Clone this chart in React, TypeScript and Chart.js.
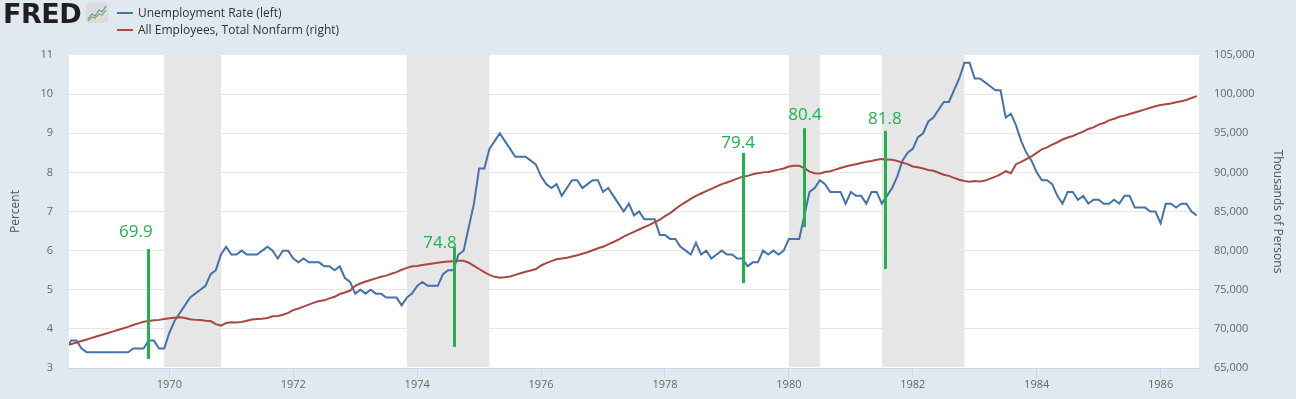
import React, { useEffect, useRef } from 'react';
import { Chart, registerables } from 'chart.js';

Chart.register(...registerables);

// Monthly series starting January 1968
const START_YEAR = 1968;

// Unemployment Rate (percent), Jan 1968 - Aug 1986
const UNRATE = [
  3.7, 3.8, 3.7, 3.5, 3.5, 3.7, 3.7, 3.5, 3.4, 3.4, 3.4, 3.4,
  3.4, 3.4, 3.4, 3.4, 3.4, 3.5, 3.5, 3.5, 3.7, 3.7, 3.5, 3.5,
  3.9, 4.2, 4.4, 4.6, 4.8, 4.9, 5.0, 5.1, 5.4, 5.5, 5.9, 6.1,
  5.9, 5.9, 6.0, 5.9, 5.9, 5.9, 6.0, 6.1, 6.0, 5.8, 6.0, 6.0,
  5.8, 5.7, 5.8, 5.7, 5.7, 5.7, 5.6, 5.6, 5.5, 5.6, 5.3, 5.2,
  4.9, 5.0, 4.9, 5.0, 4.9, 4.9, 4.8, 4.8, 4.8, 4.6, 4.8, 4.9,
  5.1, 5.2, 5.1, 5.1, 5.1, 5.4, 5.5, 5.5, 5.9, 6.0, 6.6, 7.2,
  8.1, 8.1, 8.6, 8.8, 9.0, 8.8, 8.6, 8.4, 8.4, 8.4, 8.3, 8.2,
  7.9, 7.7, 7.6, 7.7, 7.4, 7.6, 7.8, 7.8, 7.6, 7.7, 7.8, 7.8,
  7.5, 7.6, 7.4, 7.2, 7.0, 7.2, 6.9, 7.0, 6.8, 6.8, 6.8, 6.4,
  6.4, 6.3, 6.3, 6.1, 6.0, 5.9, 6.2, 5.9, 6.0, 5.8, 5.9, 6.0,
  5.9, 5.9, 5.8, 5.8, 5.6, 5.7, 5.7, 6.0, 5.9, 6.0, 5.9, 6.0,
  6.3, 6.3, 6.3, 6.9, 7.5, 7.6, 7.8, 7.7, 7.5, 7.5, 7.5, 7.2,
  7.5, 7.4, 7.4, 7.2, 7.5, 7.5, 7.2, 7.4, 7.6, 7.9, 8.3, 8.5,
  8.6, 8.9, 9.0, 9.3, 9.4, 9.6, 9.8, 9.8, 10.1, 10.4, 10.8, 10.8,
  10.4, 10.4, 10.3, 10.2, 10.1, 10.1, 9.4, 9.5, 9.2, 8.8, 8.5, 8.3,
  8.0, 7.8, 7.8, 7.7, 7.4, 7.2, 7.5, 7.5, 7.3, 7.4, 7.2, 7.3,
  7.3, 7.2, 7.2, 7.3, 7.2, 7.4, 7.4, 7.1, 7.1, 7.1, 7.0, 7.0,
  6.7, 7.2, 7.2, 7.1, 7.2, 7.2, 7.0, 6.9,
];

// All Employees, Total Nonfarm (thousands of persons), Jan 1968 - Aug 1986
const PAYEMS = [
  66900, 67200, 67350, 67600, 67850, 68050, 68250, 68450, 68650, 68850, 69050, 69250,
  69450, 69650, 69850, 70050, 70250, 70500, 70700, 70900, 71000, 71100, 71150, 71250,
  71350, 71430, 71480, 71400, 71220, 71150, 71130, 71050, 71000, 70600, 70420, 70750,
  70850, 70820, 70880, 71050, 71200, 71250, 71300, 71400, 71600, 71650, 71800, 72050,
  72400, 72600, 72850, 73100, 73350, 73550, 73650, 73900, 74100, 74450, 74650, 74900,
  75500, 75800, 76050, 76250, 76450, 76650, 76800, 77050, 77250, 77550, 77800, 78000,
  78050, 78150, 78250, 78350, 78450, 78550, 78600, 78650, 78700, 78700, 78450, 78050,
  77650, 77250, 76900, 76650, 76550, 76600, 76700, 76900, 77100, 77300, 77450, 77650,
  78100, 78400, 78650, 78900, 79000, 79100, 79250, 79400, 79600, 79800, 80050, 80300,
  80500, 80800, 81100, 81400, 81800, 82100, 82400, 82700, 83000, 83300, 83650, 83950,
  84400, 84800, 85300, 85800, 86200, 86600, 87000, 87300, 87600, 87900, 88200, 88500,
  88700, 88950, 89200, 89450, 89550, 89750, 89900, 90000, 90050, 90200, 90350, 90500,
  90750, 90850, 90850, 90550, 90100, 89900, 89850, 90050, 90150, 90350, 90550, 90750,
  90900, 91050, 91200, 91350, 91450, 91600, 91700, 91650, 91600, 91450, 91250, 91050,
  90750, 90650, 90500, 90300, 90200, 89950, 89700, 89550, 89300, 89050, 88900, 88800,
  88900, 88850, 88950, 89200, 89450, 89750, 90150, 89900, 91050, 91350, 91700, 92050,
  92500, 92950, 93200, 93550, 93850, 94200, 94450, 94650, 94950, 95200, 95550, 95750,
  96100, 96300, 96650, 96850, 97100, 97250, 97450, 97650, 97850, 98050, 98250, 98450,
  98600, 98700, 98800, 98950, 99100, 99250, 99500, 99750,
];

const X_MIN = 1968.38;
const X_MAX = 1986.62;
const YEAR_TICKS = [1970, 1972, 1974, 1976, 1978, 1980, 1982, 1984, 1986];

const PCT_MIN = 3;
const PCT_MAX = 11;
const PCT_STEP = 1;
const EMP_MIN = 65000;
const EMP_MAX = 105000;
const EMP_STEP = 5000;

// Recession periods (decimal years)
const RECESSION_START = [1969.917, 1973.833, 1980.0, 1981.5];
const RECESSION_END = [1970.833, 1975.167, 1980.5, 1982.833];

// Green annotations (in data units: decimal year / percent)
const NOTE_LABELS = ['69.9', '74.8', '79.4', '80.4', '81.8'];
const NOTE_X = [1969.661, 1974.6, 1979.264, 1980.249, 1981.556];
const NOTE_TOP = [6.04, 6.09, 8.5, 9.13, 9.06];
const NOTE_BOTTOM = [3.23, 3.54, 5.17, 6.6, 5.53];
const NOTE_LABEL_X = [1969.458, 1974.369, 1979.18, 1980.26, 1981.55];
const NOTE_LABEL_Y = [6.48, 6.19, 8.74, 9.47, 9.37];

const BLUE = '#4572a7';
const RED = '#aa4643';
const GREEN = '#22b14c';
const BG = '#e1e9f0';
const FONT = '"Open Sans", "DejaVu Sans", sans-serif';

function monthX(i: number) {
  return START_YEAR + i / 12;
}

const plotBg = {
  id: 'plotBg',
  beforeDraw(chart: any) {
    const { ctx, chartArea } = chart;
    ctx.save();
    ctx.fillStyle = '#ffffff';
    ctx.fillRect(chartArea.left, chartArea.top, chartArea.right - chartArea.left, chartArea.bottom - chartArea.top);
    ctx.restore();
  },
};

const recessions = {
  id: 'recessions',
  beforeDatasetsDraw(chart: any) {
    const { ctx, chartArea, scales } = chart;
    const xs = scales.x;
    ctx.save();
    ctx.fillStyle = '#e6e6e6';
    for (let i = 0; i < RECESSION_START.length; i++) {
      const a = xs.getPixelForValue(RECESSION_START[i]);
      const b = xs.getPixelForValue(RECESSION_END[i]);
      ctx.fillRect(a, chartArea.top, b - a, chartArea.bottom - chartArea.top - 1);
    }
    ctx.restore();
  },
};

const notes = {
  id: 'notes',
  afterDatasetsDraw(chart: any) {
    const { ctx, scales } = chart;
    const xs = scales.x;
    const ys = scales.y;
    ctx.save();
    ctx.strokeStyle = GREEN;
    ctx.lineWidth = 3;
    ctx.lineCap = 'butt';
    ctx.fillStyle = GREEN;
    ctx.font = '17px ' + FONT;
    ctx.textAlign = 'center';
    ctx.textBaseline = 'middle';
    for (let i = 0; i < NOTE_LABELS.length; i++) {
      const x = Math.round(xs.getPixelForValue(NOTE_X[i])) + 0.5;
      ctx.beginPath();
      ctx.moveTo(x, ys.getPixelForValue(NOTE_TOP[i]));
      ctx.lineTo(x, ys.getPixelForValue(NOTE_BOTTOM[i]));
      ctx.stroke();
      ctx.fillText(NOTE_LABELS[i], xs.getPixelForValue(NOTE_LABEL_X[i]), ys.getPixelForValue(NOTE_LABEL_Y[i]));
    }
    ctx.restore();
  },
};

function FredLogo() {
  return (
    <div style={{ position: 'absolute', left: 0, top: 0, width: 112, height: 30 }}>
      <div
        style={{
          position: 'absolute',
          left: 3,
          top: -1,
          fontFamily: '"DejaVu Sans", sans-serif',
          fontWeight: 900,
          fontSize: 27,
          lineHeight: '30px',
          color: '#231f20',
          letterSpacing: -0.5,
        }}
      >
        FRED
      </div>
      <svg style={{ position: 'absolute', left: 86, top: 3 }} width={22} height={20} viewBox="0 0 22 20">
        <rect x={0} y={0} width={22} height={20} rx={2} fill="#dcdcdc" />
        <polyline points="2,16 6,11 9,13 13,7 16,9 20,3" fill="none" stroke="#5b8fc7" strokeWidth={1.2} />
        <polyline points="2,18 6,14 9,15 13,11 16,12 20,7" fill="none" stroke="#7ab648" strokeWidth={1.2} />
      </svg>
    </div>
  );
}

function Legend() {
  const row = (color: string, text: string, cy: number) => (
    <React.Fragment key={text}>
      <div style={{ position: 'absolute', left: 117, top: cy - 1, width: 16, height: 2, background: color }} />
      <div
        style={{
          position: 'absolute',
          left: 138,
          top: cy - 9,
          fontFamily: FONT,
          fontSize: 12,
          lineHeight: '18px',
          color: '#333333',
          whiteSpace: 'nowrap',
        }}
      >
        {text}
      </div>
    </React.Fragment>
  );
  return (
    <>
      {row(BLUE, 'Unemployment Rate (left)', 13)}
      {row(RED, 'All Employees, Total Nonfarm (right)', 30)}
    </>
  );
}

export default function App() {
  const canvasRef = useRef<HTMLCanvasElement | null>(null);

  useEffect(() => {
    const canvas = canvasRef.current;
    if (!canvas) return;
    const unData = UNRATE.map((v, i) => ({ x: monthX(i), y: v }));
    const empData = PAYEMS.map((v, i) => ({ x: monthX(i), y: v }));
    const tickFont = { family: FONT, size: 11 };
    const titleFont = { family: FONT, size: 12 };

    const chart = new Chart(canvas, {
      type: 'line',
      data: {
        datasets: [
          {
            label: 'Unemployment Rate (left)',
            data: unData,
            yAxisID: 'y',
            borderColor: BLUE,
            backgroundColor: BLUE,
            borderWidth: 2,
            pointRadius: 0,
            tension: 0,
            order: 2,
          },
          {
            label: 'All Employees, Total Nonfarm (right)',
            data: empData,
            yAxisID: 'y1',
            borderColor: RED,
            backgroundColor: RED,
            borderWidth: 2,
            pointRadius: 0,
            tension: 0,
            order: 1,
          },
        ],
      },
      options: {
        animation: false,
        responsive: false,
        maintainAspectRatio: false,
        layout: { padding: { top: 55, left: 0, right: 0, bottom: 0 } },
        plugins: {
          legend: { display: false },
          tooltip: { enabled: false },
        },
        scales: {
          x: {
            type: 'linear',
            min: X_MIN,
            max: X_MAX,
            afterBuildTicks: (s: any) => {
              s.ticks = YEAR_TICKS.map((v) => ({ value: v }));
            },
            afterFit: (s: any) => {
              s.height = 31;
            },
            ticks: {
              color: '#666666',
              font: tickFont,
              padding: 0,
              autoSkip: false,
              maxRotation: 0,
              callback: (v: any) => String(v),
            },
            grid: { drawOnChartArea: false, drawTicks: true, tickLength: 10, color: '#ccd6eb' },
            border: { display: true, color: '#ccd6eb' },
          },
          y: {
            type: 'linear',
            position: 'left',
            min: PCT_MIN,
            max: PCT_MAX,
            afterFit: (s: any) => {
              s.width = 69;
            },
            ticks: { stepSize: PCT_STEP, color: '#666666', font: tickFont, padding: 16 },
            grid: {
              drawTicks: false,
              color: (ctx: any) => (ctx.tick && ctx.tick.value === PCT_MAX ? 'rgba(0,0,0,0)' : '#e6e6e6'),
            },
            border: { display: false },
            title: {
              display: true,
              text: 'Percent',
              color: '#555555',
              font: titleFont,
              padding: { top: 8.5, bottom: 0 },
            },
          },
          y1: {
            type: 'linear',
            position: 'right',
            min: EMP_MIN,
            max: EMP_MAX,
            afterFit: (s: any) => {
              s.width = 97;
            },
            ticks: {
              stepSize: EMP_STEP,
              color: '#666666',
              font: tickFont,
              padding: 15,
              callback: (v: any) => Number(v).toLocaleString('en-US'),
            },
            grid: { display: false, drawTicks: false },
            border: { display: false },
            title: {
              display: true,
              text: 'Thousands of Persons',
              color: '#555555',
              font: titleFont,
              padding: { top: 11, bottom: 0 },
            },
          },
        },
      },
      plugins: [plotBg, recessions, notes],
    } as any);

    return () => chart.destroy();
  }, []);

  return (
    <div
      style={{
        position: 'fixed',
        left: 0,
        top: 0,
        width: 1296,
        height: 399,
        background: BG,
        overflow: 'hidden',
      }}
    >
      <canvas ref={canvasRef} width={1296} height={399} style={{ position: 'absolute', left: 0, top: 0, display: 'block' }} />
      <FredLogo />
      <Legend />
    </div>
  );
}
